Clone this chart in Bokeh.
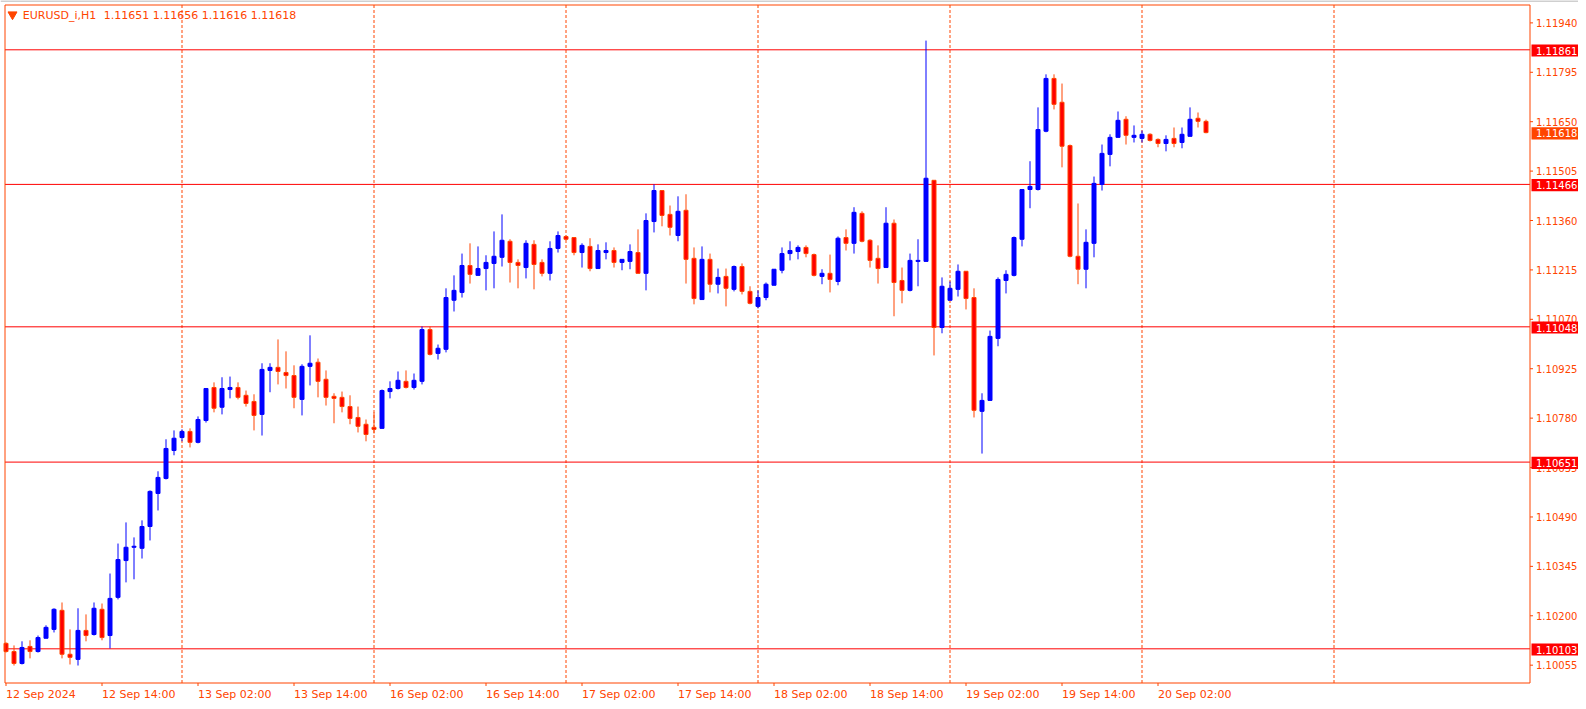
from bokeh.plotting import figure
from bokeh.models import Range1d, ColumnDataSource
from bokeh.embed import file_html
from bokeh.resources import INLINE
from bokeh.core.properties import value

symbol = "EURUSD_i,H1"

opens = [1.10119, 1.10095, 1.10060, 1.10110, 1.10095, 1.10134, 1.10160, 1.10216, 1.10087, 1.10072,
         1.10157, 1.10145, 1.10219, 1.10142, 1.10254, 1.10362, 1.10401, 1.10398, 1.10462, 1.10559,
         1.10603, 1.10685, 1.10723, 1.10741, 1.10709, 1.10773, 1.10870, 1.10812, 1.10864, 1.10870,
         1.10847, 1.10829, 1.10791, 1.10920, 1.10929, 1.10914, 1.10905, 1.10835, 1.10932, 1.10944,
         1.10894, 1.10844, 1.10841, 1.10814, 1.10782, 1.10762, 1.10753, 1.10750, 1.10858, 1.10867,
         1.10888, 1.10870, 1.10888, 1.11040, 1.10970, 1.10982, 1.11126, 1.11149, 1.11228, 1.11199,
         1.11219, 1.11234, 1.11252, 1.11299, 1.11237, 1.11222, 1.11290, 1.11237, 1.11205, 1.11278,
         1.11313, 1.11310, 1.11266, 1.11284, 1.11219, 1.11266, 1.11272, 1.11237, 1.11240, 1.11266,
         1.11205, 1.11357, 1.11448, 1.11378, 1.11316, 1.11390, 1.11249, 1.11128, 1.11246, 1.11173,
         1.11196, 1.11158, 1.11225, 1.11152, 1.11108, 1.11134, 1.11170, 1.11214, 1.11263, 1.11269,
         1.11281, 1.11260, 1.11196, 1.11205, 1.11181, 1.11310, 1.11293, 1.11381, 1.11302, 1.11249,
         1.11222, 1.11352, 1.11184, 1.11155, 1.11240, 1.11240, 1.11478, 1.11046, 1.11126, 1.11158,
         1.11211, 1.11134, 1.10800, 1.10832, 1.11014, 1.11184, 1.11199, 1.11305, 1.11451, 1.11451,
         1.11622, 1.11777, 1.11707, 1.11580, 1.11255, 1.11217, 1.11293, 1.11466, 1.11554, 1.11604,
         1.11657, 1.11604, 1.11601, 1.11613, 1.11598, 1.11586, 1.11601, 1.11589, 1.11607, 1.11660,
         1.11651]
highs = [1.10122, 1.10113, 1.10125, 1.10128, 1.10142, 1.10172, 1.10222, 1.10239, 1.10160, 1.10222,
         1.10204, 1.10239, 1.10236, 1.10324, 1.10412, 1.10474, 1.10430, 1.10480, 1.10568, 1.10624,
         1.10718, 1.10744, 1.10747, 1.10750, 1.10785, 1.10868, 1.10885, 1.10900, 1.10902, 1.10885,
         1.10861, 1.10850, 1.10941, 1.10941, 1.11011, 1.10976, 1.10935, 1.10938, 1.11023, 1.10955,
         1.10920, 1.10853, 1.10858, 1.10847, 1.10814, 1.10776, 1.10797, 1.10864, 1.10888, 1.10917,
         1.10920, 1.10911, 1.11049, 1.11049, 1.10996, 1.11161, 1.11199, 1.11263, 1.11293, 1.11284,
         1.11258, 1.11328, 1.11378, 1.11305, 1.11246, 1.11302, 1.11302, 1.11246, 1.11299, 1.11328,
         1.11316, 1.11310, 1.11293, 1.11308, 1.11290, 1.11296, 1.11281, 1.11246, 1.11290, 1.11334,
         1.11381, 1.11466, 1.11448, 1.11404, 1.11431, 1.11437, 1.11281, 1.11284, 1.11263, 1.11219,
         1.11219, 1.11228, 1.11234, 1.11167, 1.11155, 1.11178, 1.11217, 1.11281, 1.11299, 1.11287,
         1.11287, 1.11263, 1.11217, 1.11260, 1.11313, 1.11334, 1.11399, 1.11387, 1.11305, 1.11287,
         1.11399, 1.11363, 1.11222, 1.11263, 1.11305, 1.11888, 1.11478, 1.11193, 1.11181, 1.11231,
         1.11211, 1.11161, 1.10853, 1.11037, 1.11193, 1.11214, 1.11313, 1.11451, 1.11534, 1.11692,
         1.11789, 1.11789, 1.11762, 1.11583, 1.11410, 1.11334, 1.11489, 1.11583, 1.11613, 1.11680,
         1.11666, 1.11639, 1.11624, 1.11616, 1.11601, 1.11610, 1.11633, 1.11633, 1.11692, 1.11677,
         1.11656]
lows = [1.10092, 1.10054, 1.10057, 1.10075, 1.10092, 1.10134, 1.10151, 1.10075, 1.10057, 1.10054,
        1.10125, 1.10142, 1.10128, 1.10104, 1.10248, 1.10298, 1.10307, 1.10368, 1.10421, 1.10509,
        1.10600, 1.10671, 1.10712, 1.10694, 1.10706, 1.10767, 1.10797, 1.10791, 1.10838, 1.10835,
        1.10814, 1.10744, 1.10729, 1.10856, 1.10879, 1.10867, 1.10809, 1.10788, 1.10876, 1.10841,
        1.10817, 1.10765, 1.10797, 1.10762, 1.10738, 1.10712, 1.10735, 1.10750, 1.10838, 1.10864,
        1.10867, 1.10864, 1.10879, 1.10964, 1.10952, 1.10973, 1.11093, 1.11134, 1.11175, 1.11199,
        1.11155, 1.11161, 1.11225, 1.11178, 1.11161, 1.11190, 1.11158, 1.11196, 1.11184, 1.11266,
        1.11302, 1.11258, 1.11222, 1.11211, 1.11219, 1.11246, 1.11222, 1.11214, 1.11217, 1.11205,
        1.11155, 1.11325, 1.11343, 1.11316, 1.11299, 1.11175, 1.11114, 1.11128, 1.11149, 1.11146,
        1.11108, 1.11152, 1.11143, 1.11114, 1.11102, 1.11126, 1.11170, 1.11205, 1.11243, 1.11246,
        1.11252, 1.11196, 1.11173, 1.11149, 1.11170, 1.11272, 1.11263, 1.11296, 1.11222, 1.11175,
        1.11222, 1.11079, 1.11117, 1.11152, 1.11167, 1.11240, 1.10964, 1.11029, 1.11126, 1.11137,
        1.11099, 1.10782, 1.10676, 1.10832, 1.10991, 1.11146, 1.11196, 1.11284, 1.11396, 1.11448,
        1.11619, 1.11686, 1.11516, 1.11252, 1.11173, 1.11161, 1.11252, 1.11448, 1.11519, 1.11604,
        1.11583, 1.11589, 1.11589, 1.11592, 1.11575, 1.11563, 1.11575, 1.11572, 1.11607, 1.11633,
        1.11616]
closes = [1.10095, 1.10060, 1.10107, 1.10095, 1.10136, 1.10166, 1.10219, 1.10087, 1.10078, 1.10157,
          1.10142, 1.10222, 1.10136, 1.10251, 1.10365, 1.10401, 1.10404, 1.10462, 1.10565, 1.10606,
          1.10691, 1.10721, 1.10741, 1.10709, 1.10776, 1.10867, 1.10809, 1.10867, 1.10870, 1.10841,
          1.10823, 1.10788, 1.10923, 1.10929, 1.10917, 1.10905, 1.10841, 1.10932, 1.10941, 1.10888,
          1.10841, 1.10838, 1.10814, 1.10779, 1.10756, 1.10732, 1.10747, 1.10861, 1.10867, 1.10891,
          1.10870, 1.10891, 1.11040, 1.10967, 1.10985, 1.11134, 1.11155, 1.11228, 1.11202, 1.11219,
          1.11237, 1.11255, 1.11302, 1.11237, 1.11228, 1.11293, 1.11231, 1.11205, 1.11278, 1.11316,
          1.11305, 1.11266, 1.11287, 1.11219, 1.11272, 1.11272, 1.11237, 1.11246, 1.11269, 1.11205,
          1.11360, 1.11448, 1.11375, 1.11340, 1.11387, 1.11246, 1.11131, 1.11246, 1.11173, 1.11193,
          1.11161, 1.11225, 1.11152, 1.11117, 1.11134, 1.11173, 1.11217, 1.11263, 1.11272, 1.11281,
          1.11263, 1.11199, 1.11205, 1.11187, 1.11308, 1.11293, 1.11384, 1.11299, 1.11243, 1.11219,
          1.11352, 1.11178, 1.11155, 1.11243, 1.11243, 1.11484, 1.11046, 1.11167, 1.11161, 1.11211,
          1.11131, 1.10803, 1.10832, 1.11020, 1.11187, 1.11202, 1.11310, 1.11451, 1.11460, 1.11627,
          1.11777, 1.11701, 1.11578, 1.11255, 1.11217, 1.11296, 1.11469, 1.11557, 1.11604, 1.11654,
          1.11610, 1.11610, 1.11613, 1.11595, 1.11586, 1.11598, 1.11586, 1.11613, 1.11657, 1.11651,
          1.11618]

level_prices = [1.11861, 1.11466, 1.11048, 1.10651, 1.10103]
price_ticks = [1.10055, 1.10200, 1.10345, 1.10490, 1.10635, 1.10780, 1.10925,
               1.11070, 1.11215, 1.11360, 1.11505, 1.11650, 1.11795, 1.11940]
time_tick_bars = [0, 12, 24, 36, 48, 60, 72, 84, 96, 108, 120, 132, 144]
time_tick_labels = ["12 Sep 2024", "12 Sep 14:00", "13 Sep 02:00", "13 Sep 14:00",
                    "16 Sep 02:00", "16 Sep 14:00", "17 Sep 02:00", "17 Sep 14:00",
                    "18 Sep 02:00", "18 Sep 14:00", "19 Sep 02:00", "19 Sep 14:00",
                    "20 Sep 02:00"]
day_separator_bars = [22, 46, 70, 94, 118, 142, 166]

# ---- styling / layout ----
FG = "#FF4500"
BULL = "#0000FF"
BEAR_FILL = "#FF0000"
LEVEL = "#FF0000"
FONT = value("DejaVu Sans")

W, H = 1578, 701          # canvas size in px
BAR_PX = 8.0              # px per bar
PX_PER_PRICE = 34074.0    # px per price unit
X_START = -5.5 / BAR_PX   # bar 0 sits at 5.5 px
Y_TOP = 1.11861 + 49.3 / PX_PER_PRICE


def sx(px):
    """horizontal canvas px -> x data"""
    return X_START + px / BAR_PX


def sy(py):
    """vertical canvas px (from top) -> price"""
    return Y_TOP - py / PX_PER_PRICE


def dpx(py):
    return py / PX_PER_PRICE


p = figure(width=W, height=H,
           x_range=Range1d(X_START, sx(W)), y_range=Range1d(sy(H), Y_TOP),
           output_backend="svg", toolbar_location=None,
           x_axis_location=None, y_axis_location=None,
           min_border=0, min_border_left=0, min_border_right=0,
           min_border_top=0, min_border_bottom=0,
           background_fill_color="white", border_fill_color="white",
           outline_line_color=None)
p.grid.visible = False

LEFT, RIGHT, TOP, BOTTOM = sx(4.5), sx(1529.5), sy(4.5), sy(682.5)

# window edge line at top
p.segment(x0=[X_START], y0=[sy(0.5)], x1=[sx(W)], y1=[sy(0.5)], line_color="#A0A0A0", line_width=1)

# day separators
p.segment(x0=day_separator_bars, y0=[TOP] * len(day_separator_bars),
          x1=day_separator_bars, y1=[BOTTOM] * len(day_separator_bars),
          line_color=FG, line_width=1, line_dash="3 2")

# horizontal levels
p.segment(x0=[LEFT] * len(level_prices), y0=level_prices,
          x1=[RIGHT] * len(level_prices), y1=level_prices,
          line_color=LEVEL, line_width=1)

# candles
n = len(opens)
bull = dict(x=[], o=[], h=[], l=[], c=[])
bear = dict(x=[], o=[], h=[], l=[], c=[])
for i in range(n):
    d = bull if closes[i] >= opens[i] else bear
    d["x"].append(i)
    d["o"].append(opens[i])
    d["h"].append(highs[i])
    d["l"].append(lows[i])
    d["c"].append(closes[i])
sb = ColumnDataSource(bull)
sr = ColumnDataSource(bear)
p.segment(x0="x", y0="h", x1="x", y1="l", source=sb, line_color=BULL, line_width=1)
p.segment(x0="x", y0="h", x1="x", y1="l", source=sr, line_color=FG, line_width=1)
p.vbar(x="x", width=4 / BAR_PX, top="c", bottom="o", source=sb,
       fill_color=BULL, line_color=BULL, line_width=1)
p.vbar(x="x", width=4 / BAR_PX, top="o", bottom="c", source=sr,
       fill_color=BEAR_FILL, line_color=FG, line_width=1)

# chart frame
p.quad(left=[LEFT], right=[RIGHT], top=[TOP], bottom=[BOTTOM],
       fill_color=None, line_color=FG, line_width=1)

# price scale (right)
p.segment(x0=[RIGHT] * len(price_ticks), y0=price_ticks,
          x1=[sx(1532.5)] * len(price_ticks), y1=price_ticks,
          line_color=FG, line_width=1)
p.text(x=[sx(1535.5)] * len(price_ticks), y=price_ticks,
       text=[f"{t:.5f}" for t in price_ticks],
       text_align="left", text_baseline="middle", text_color=FG,
       text_font=FONT, text_font_size="10px")

# time scale (bottom)
p.segment(x0=time_tick_bars, y0=[BOTTOM] * len(time_tick_bars),
          x1=time_tick_bars, y1=[sy(685.5)] * len(time_tick_bars),
          line_color=FG, line_width=1)
p.text(x=time_tick_bars, y=[sy(694)] * len(time_tick_bars), text=time_tick_labels,
       text_align="left", text_baseline="middle", text_color=FG,
       text_font=FONT, text_font_size="11px")

# price boxes on the scale
box_prices = level_prices + [closes[-1]]
box_colors = ["#FF0000"] * len(level_prices) + [FG]
p.quad(left=[sx(1531)] * len(box_prices), right=[sx(1586)] * len(box_prices),
       top=[v + dpx(5.4) for v in box_prices], bottom=[v - dpx(6.8) for v in box_prices],
       fill_color=box_colors, line_color=None)
p.text(x=[sx(1535.5)] * len(box_prices), y=[v - dpx(0.8) for v in box_prices],
       text=[f"{v:.5f}" for v in box_prices],
       text_align="left", text_baseline="middle", text_color="white",
       text_font=FONT, text_font_size="10px")

# header
p.scatter(x=[sx(12)], y=[sy(14)], marker="inverted_triangle", size=9,
          fill_color=FG, line_color=FG)
p.text(x=[sx(22.3)], y=[sy(14.7)], text=[symbol],
       text_align="left", text_baseline="middle", text_color=FG,
       text_font=FONT, text_font_size="11px")
p.text(x=[sx(103.2)], y=[sy(14.7)],
       text=[f"{opens[-1]:.5f} {highs[-1]:.5f} {lows[-1]:.5f} {closes[-1]:.5f}"],
       text_align="left", text_baseline="middle", text_color=FG,
       text_font=FONT, text_font_size="11px")

open("out.html", "w").write(file_html(p, INLINE))
